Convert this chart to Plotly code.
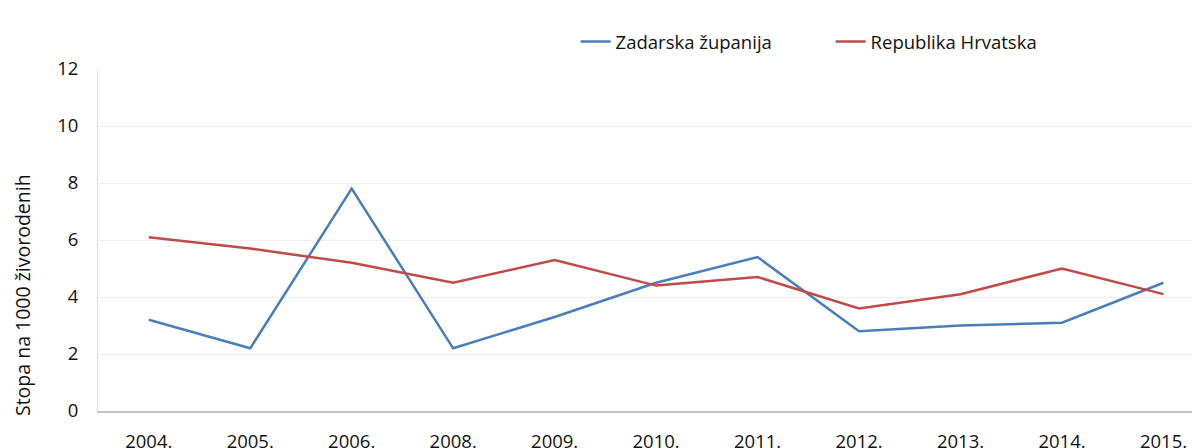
import plotly.graph_objects as go

# data
godine = ["2004.", "2005.", "2006.", "2008.", "2009.", "2010.",
          "2011.", "2012.", "2013.", "2014.", "2015."]
zadarska = [3.2, 2.2, 7.8, 2.2, 3.3, 4.5, 5.4, 2.8, 3.0, 3.1, 4.5]
hrvatska = [6.1, 5.7, 5.2, 4.5, 5.3, 4.4, 4.7, 3.6, 4.1, 5.0, 4.1]
y_ticks = [0, 2, 4, 6, 8, 10, 12]

font_fam = "Open Sans, Lato, sans-serif"

fig = go.Figure()
fig.add_trace(go.Scatter(x=godine, y=zadarska, mode="lines",
                         name="Zadarska županija",
                         line=dict(color="#4a7ebb", width=2.5)))
fig.add_trace(go.Scatter(x=godine, y=hrvatska, mode="lines",
                         name="Republika Hrvatska",
                         line=dict(color="#be4b48", width=2.5)))

# page body has 8px margin, so margins here are offset by 8
fig.update_layout(
    width=1200, height=448,
    margin=dict(l=90, r=8, t=61, b=45, autoexpand=False),
    paper_bgcolor="white", plot_bgcolor="white",
    font=dict(family=font_fam, color="#111111", size=18),
    showlegend=True,
    legend=dict(orientation="h", xref="container", yref="container",
                x=0.473, y=0.924, xanchor="left", yanchor="middle",
                font=dict(size=18.5), entrywidth=210, entrywidthmode="pixels",
                bgcolor="rgba(0,0,0,0)"),
)

fig.update_xaxes(
    type="category", range=[-0.5, 10.36], automargin=False,
    showline=True, linecolor="#c4c4c4", linewidth=1.5,
    showgrid=False, ticks="outside", ticklen=13, tickcolor="rgba(0,0,0,0)",
    tickfont=dict(size=18.5, color="#111111"),
)
fig.update_yaxes(
    range=[0, 12], tickvals=y_ticks, automargin=False,
    showline=True, linecolor="#e3e3e3", linewidth=1,
    showgrid=True, gridcolor="#efefef", zeroline=False,
    ticks="outside", ticklen=15, tickcolor="rgba(0,0,0,0)",
    tickfont=dict(size=18.5, color="#111111"),
)

fig.add_annotation(
    text="Stopa na 1000 živorodenih", textangle=-90,
    xref="paper", yref="paper", x=-0.069, y=0.339,
    xanchor="center", yanchor="middle", showarrow=False,
    font=dict(size=19.5, color="#111111"),
)

fig.write_html("out.html")
